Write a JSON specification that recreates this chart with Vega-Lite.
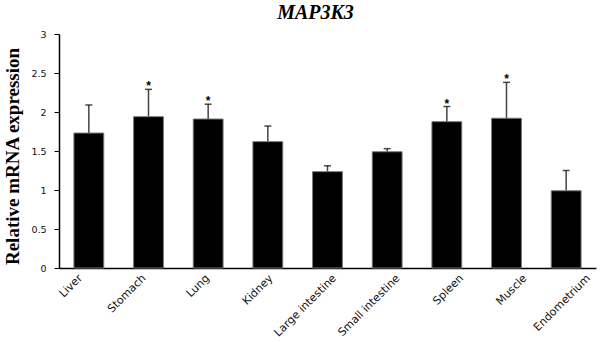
{
  "$schema": "https://vega.github.io/schema/vega-lite/v6.json",
  "width": 537,
  "height": 234,
  "autosize": {"type": "none"},
  "padding": {"left": 59, "top": 34, "right": 4, "bottom": 74},
  "background": "white",
  "title": {"text": "MAP3K3", "font": "Liberation Serif", "fontStyle": "italic", "fontWeight": "bold", "fontSize": 20, "anchor": "middle", "offset": 6, "dx": -12, "color": "black"},
  "config": {"view": {"stroke": null}, "axisY": {"values": [0, 0.5, 1, 1.5, 2, 2.5, 3], "tickCount": 7, "labelOverlap": false}},
  "data": {"values": [
    {"tissue": "Liver", "value": 1.73, "err": 2.09, "sig": ""},
    {"tissue": "Stomach", "value": 1.94, "err": 2.29, "sig": "*"},
    {"tissue": "Lung", "value": 1.91, "err": 2.10, "sig": "*"},
    {"tissue": "Kidney", "value": 1.62, "err": 1.82, "sig": ""},
    {"tissue": "Large intestine", "value": 1.235, "err": 1.31, "sig": ""},
    {"tissue": "Small intestine", "value": 1.49, "err": 1.53, "sig": ""},
    {"tissue": "Spleen", "value": 1.876, "err": 2.07, "sig": "*"},
    {"tissue": "Muscle", "value": 1.92, "err": 2.38, "sig": "*"},
    {"tissue": "Endometrium", "value": 0.99, "err": 1.25, "sig": ""}
  ]},
  "resolve": {"scale": {"x": "independent"}, "axis": {"x": "independent"}},
  "layer": [
    {
      "encoding": {
        "x": {"field": "tissue", "type": "nominal", "sort": null,
          "scale": {"paddingInner": 0.5, "paddingOuter": 0.25},
          "axis": null}
      },
      "layer": [
        {"mark": {"type": "rule", "color": "#444", "strokeWidth": 1.5},
         "encoding": {"y": {"field": "value", "type": "quantitative", "scale": {"domain": [0, 3]},
            "axis": {"title": "Relative mRNA expression", "titleFont": "Liberation Serif", "titleFontWeight": "bold", "titleFontSize": 19, "titleColor": "black", "titlePadding": 8, "titleY": 122,
              "values": [0, 0.5, 1, 1.5, 2, 2.5, 3], "tickCount": 7, "format": "~g", "labelOverlap": false, "labelFont": "DejaVu Sans", "labelFontSize": 9.5, "labelColor": "#111", "grid": false, "tickColor": "black", "tickSize": 5, "domainColor": "black", "domainWidth": 1.5, "labelPadding": 8}},
          "y2": {"field": "err"}}},
        {"mark": {"type": "tick", "color": "black", "size": 7, "thickness": 1.5},
         "encoding": {"y": {"field": "err", "type": "quantitative"}}},
        {"mark": {"type": "bar", "color": "black", "stroke": "#777", "strokeWidth": 1},
         "encoding": {"y": {"field": "value", "type": "quantitative"}}},
        {"mark": {"type": "text", "baseline": "middle", "dy": -3, "fontSize": 12, "fontWeight": "bold", "font": "Liberation Sans", "color": "black"},
         "encoding": {"y": {"field": "err", "type": "quantitative"}, "text": {"field": "sig"}}}
      ]
    },
    {
      "mark": {"type": "point", "opacity": 0},
      "encoding": {
        "x": {"field": "tissue", "type": "nominal", "sort": null,
          "scale": {"type": "point", "padding": 0.2283, "align": 0.586},
          "axis": {"orient": "bottom", "title": null, "labelAngle": -45, "labelAlign": "right", "labelBaseline": "top", "labelFont": "DejaVu Sans", "labelFontSize": 11, "labelColor": "#111", "ticks": false, "domainColor": "black", "domainWidth": 1.5, "labelPadding": 4}},
        "y": {"field": "value", "type": "quantitative"}
      }
    }
  ]
}
